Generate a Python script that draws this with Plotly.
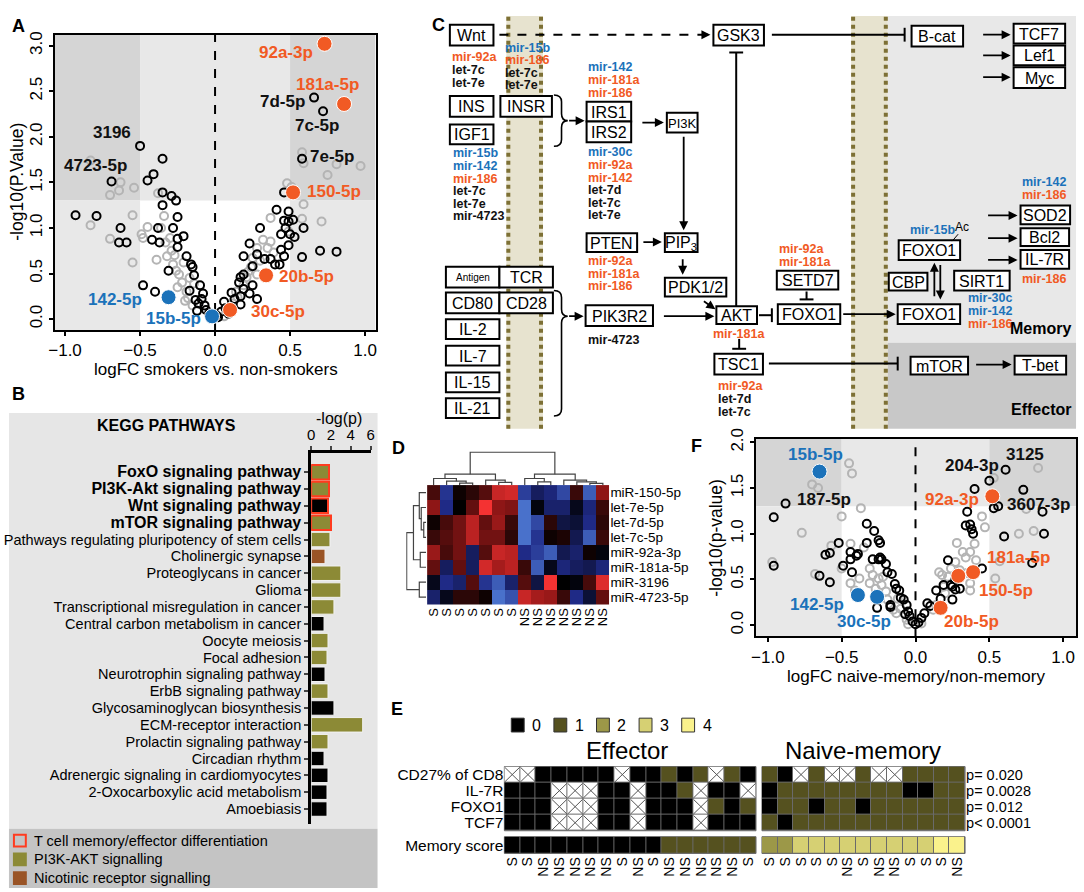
import plotly.graph_objects as go

W, H = 1084, 892
FONT = "Arial, Liberation Sans, sans-serif"
RED = "#f15a24"
BLUE = "#1b72ba"
OLIVE = "#8c8a36"
BROWN = "#9a5426"
GRAYPT = "#b4b4b4"
DARKBG = "#d5d5d5"
LIGHTBG = "#e8e8e8"


def px(x):
    return x / W


def py(y):
    return 1 - y / H


# ------------------------- Panel A data -------------------------
A_black = [(-0.50, 1.90), (-0.35, 1.76), (-0.69, 1.51), (-0.41, 1.59), (-0.45, 1.52), (-0.35, 1.39),
           (-0.35, 1.25), (-0.29, 1.35), (-0.26, 1.30), (-0.25, 1.12), (-0.93, 1.14), (-0.79, 1.13),
           (-0.63, 1.00), (-0.64, 0.84), (-0.59, 0.84), (-0.38, 1.00), (-0.28, 1.00), (-0.42, 0.87),
           (-0.37, 0.84), (-0.25, 0.88), (-0.21, 0.91), (-0.25, 0.79), (-0.19, 0.69), (-0.16, 0.60),
           (-0.15, 0.57), (-0.31, 0.53), (-0.48, 0.37), (-0.40, 0.30), (-0.14, 0.48), (-0.10, 0.37),
           (-0.08, 0.28), (-0.13, 0.21), (-0.11, 0.17), (-0.07, 0.15), (-0.12, 0.09), (-0.06, 0.10),
           (-0.04, 0.06), (0.01, 0.04), (0.04, 0.08), (0.06, 0.19), (0.07, 0.12), (0.11, 0.29),
           (0.17, 0.25), (0.17, 0.16), (0.19, 0.33), (0.23, 0.28), (0.28, 0.22), (0.25, 0.37),
           (0.17, 0.46), (0.19, 0.49), (0.16, 0.40), (0.19, 0.69), (0.25, 0.58), (0.23, 0.83),
           (0.28, 0.71), (0.30, 1.00), (0.33, 0.66), (0.37, 0.66), (0.40, 0.60), (0.43, 0.60),
           (0.41, 1.20), (0.46, 1.08), (0.49, 1.18), (0.49, 1.07), (0.52, 1.09), (0.47, 1.00),
           (0.44, 0.93), (0.50, 0.93), (0.53, 0.90), (0.59, 1.00), (0.49, 0.81), (0.44, 0.76),
           (0.46, 0.69), (0.58, 0.68), (0.70, 0.75), (0.81, 0.74), (0.46, 1.39), (0.58, 1.76),
           (0.66, 2.43), (0.72, 2.28), (-0.09, 0.22), (-0.03, 0.03), (0.02, 0.02), (0.09, 0.06),
           (0.13, 0.22), (-0.17, 0.31)]
A_gray = [(-0.83, 1.74), (-0.70, 1.36), (-0.64, 1.41), (-0.63, 1.50), (-0.54, 1.44), (-0.83, 1.03),
          (-0.70, 0.88), (-0.55, 1.14), (-0.55, 0.62), (-0.45, 1.01), (-0.49, 0.93), (-0.48, 0.89),
          (-0.38, 1.38), (-0.34, 1.13), (-0.39, 0.65), (-0.33, 0.84), (-0.32, 0.69), (-0.29, 0.75),
          (-0.28, 0.60), (-0.26, 0.53), (-0.24, 0.49), (-0.22, 0.40), (-0.19, 0.30), (-0.18, 0.23),
          (-0.25, 0.35), (-0.15, 0.15), (-0.14, 0.39), (-0.36, 1.00), (-0.30, 0.89), (0.01, 0.03),
          (0.06, 0.03), (0.10, 0.12), (0.12, 0.17), (0.15, 0.24), (0.19, 0.37), (0.21, 0.46),
          (0.24, 0.57), (0.25, 0.67), (0.28, 0.78), (0.32, 0.87), (0.35, 0.78), (0.37, 0.85),
          (0.39, 0.73), (0.37, 1.11), (0.49, 0.96), (0.48, 1.49), (0.51, 1.45), (0.59, 1.26),
          (0.58, 1.83), (0.59, 1.71), (0.75, 1.58), (0.81, 1.70), (0.97, 1.68), (0.71, 1.07),
          (0.58, 1.10), (0.30, 0.64), (0.28, 0.49), (-0.21, 0.62), (-0.17, 0.45), (-0.27, 0.70),
          (-0.20, 0.20), (0.08, 0.08), (0.14, 0.30), (0.22, 0.52)]
A_hl_fc = [0.73, 0.86, 0.52, 0.34, 0.10, -0.31, -0.02]
A_hl_p = [3.02, 2.36, 1.39, 0.48, 0.10, 0.24, 0.03]
A_hl_dir = ["up", "up", "up", "up", "up", "down", "down"]
A_lab_names = ["92a-3p", "181a-5p", "7d-5p", "7c-5p", "7e-5p", "150-5p", "20b-5p", "30c-5p",
               "142-5p", "15b-5p", "3196", "4723-5p"]
A_lab_fc = [0.47, 0.75, 0.45, 0.68, 0.78, 0.79, 0.61, 0.42, -0.67, -0.28, -0.69, -0.80]
A_lab_p = [2.92, 2.57, 2.39, 2.12, 1.78, 1.40, 0.47, 0.08, 0.21, 0.01, 2.05, 1.68]
A_lab_kind = ["up", "up", "ns", "ns", "ns", "up", "up", "up", "down", "down", "ns", "ns"]

# ------------------------- Panel F data -------------------------
F_black = [(-0.96, 1.18), (-0.96, 0.65), (-0.88, 1.33), (-0.65, 0.54), (-0.58, 0.47), (-0.61, 0.77),
           (-0.58, 0.79), (-0.52, 0.90), (-0.44, 0.80), (-0.49, 0.65), (-0.44, 0.72), (-0.43, 0.58),
           (-0.40, 0.76), (-0.39, 0.78), (-0.33, 1.11), (-0.28, 1.03), (-0.33, 0.90), (-0.25, 0.93),
           (-0.24, 0.90), (-0.29, 0.72), (-0.25, 0.72), (-0.24, 0.74), (-0.23, 0.72), (-0.20, 0.67),
           (-0.19, 0.58), (-0.16, 0.56), (-0.14, 0.45), (-0.13, 0.40), (-0.11, 0.38), (-0.08, 0.28),
           (-0.17, 0.22), (-0.17, 0.20), (-0.26, 0.19), (-0.06, 0.22), (-0.05, 0.15), (-0.04, 0.10),
           (-0.02, 0.04), (0.02, 0.03), (0.04, 0.08), (0.06, 0.13), (0.08, 0.24), (0.10, 0.21),
           (0.14, 0.38), (0.17, 0.29), (0.22, 0.71), (0.24, 0.44), (0.25, 0.42), (0.27, 0.39),
           (0.30, 0.40), (0.25, 0.28), (0.35, 1.24), (0.34, 1.09), (0.37, 1.10), (0.38, 1.05),
           (0.39, 1.00), (0.40, 1.49), (0.50, 1.58), (0.53, 1.28), (0.56, 1.30), (0.61, 1.70),
           (0.60, 0.97), (0.73, 1.48), (0.86, 1.24), (0.87, 1.00), (0.79, 0.68), (0.45, 0.62),
           (0.27, 0.50), (0.19, 0.44), (-0.10, 0.30), (-0.07, 0.12), (0.00, 0.01)]
F_gray = [(-0.66, 1.50), (-0.70, 1.54), (-0.43, 1.66), (-0.45, 1.77), (-0.37, 1.28), (-0.50, 1.19),
          (-0.77, 1.01), (-0.97, 0.69), (-0.68, 0.56), (-0.57, 0.87), (-0.44, 0.89), (-0.50, 0.62),
          (-0.44, 0.46), (-0.41, 0.38), (-0.38, 0.51), (-0.35, 0.85), (-0.31, 0.62), (-0.29, 0.55),
          (-0.31, 0.46), (-0.25, 0.51), (-0.23, 0.44), (-0.22, 0.53), (-0.20, 0.37), (-0.19, 0.28),
          (-0.15, 0.17), (-0.13, 0.13), (-0.12, 0.29), (-0.10, 0.18), (-0.06, 0.06), (-0.05, 0.01),
          (0.04, 0.02), (0.12, 0.17), (0.14, 0.22), (0.16, 0.58), (0.18, 0.55), (0.19, 0.42),
          (0.22, 0.53), (0.24, 0.62), (0.27, 0.69), (0.28, 0.90), (0.32, 0.80), (0.34, 0.74),
          (0.37, 0.80), (0.40, 0.89), (0.41, 0.71), (0.35, 0.57), (0.37, 0.46), (0.37, 0.38),
          (0.45, 1.19), (0.47, 1.07), (0.54, 0.51), (0.57, 0.70), (0.70, 1.00), (0.80, 1.03),
          (0.75, 1.27), (0.83, 1.72), (0.53, 1.61), (0.20, 0.35), (0.30, 0.60), (-0.27, 0.40)]
F_hl_fc = [-0.65, -0.39, -0.26, 0.52, 0.39, 0.29, 0.17]
F_hl_p = [1.68, 0.33, 0.31, 1.41, 0.58, 0.54, 0.19]
F_hl_dir = ["down", "down", "down", "up", "up", "up", "up"]
F_lab_names = ["15b-5p", "187-5p", "204-3p", "3125", "3607-3p", "92a-3p", "181a-5p", "150-5p",
               "20b-5p", "142-5p", "30c-5p"]
F_lab_fc = [-0.68, -0.62, 0.38, 0.74, 0.83, 0.25, 0.70, 0.61, 0.38, -0.67, -0.35]
F_lab_p = [1.87, 1.37, 1.75, 1.87, 1.32, 1.37, 0.74, 0.38, 0.04, 0.23, 0.04]
F_lab_kind = ["down", "ns", "ns", "ns", "ns", "up", "up", "up", "up", "down", "down"]

# ------------------------- Panel B data -------------------------
B_pathways = ["FoxO signaling pathway", "PI3K-Akt signaling pathway", "Wnt signaling pathway",
              "mTOR signaling pathway", "Pathways regulating pluripotency of stem cells",
              "Cholinergic synapse", "Proteoglycans in cancer", "Glioma",
              "Transcriptional misregulation in cancer", "Central carbon metabolism in cancer",
              "Oocyte meiosis", "Focal adhesion", "Neurotrophin signaling pathway",
              "ErbB signaling pathway", "Glycosaminoglycan biosynthesis", "ECM-receptor interaction",
              "Prolactin signaling pathway", "Circadian rhythm", "Adrenergic signaling in cardiomyocytes",
              "2-Oxocarboxylic acid metabolism", "Amoebiasis"]
B_logp = [1.8, 1.8, 1.7, 2.0, 1.9, 1.4, 3.0, 3.0, 2.3, 1.3, 1.7, 1.6, 1.4, 1.7, 2.3, 5.2, 1.7, 1.3,
          1.7, 1.6, 1.6]
B_group = ["pi3k", "pi3k", "other", "pi3k", "pi3k", "nicotinic", "pi3k", "pi3k", "pi3k", "other",
           "pi3k", "pi3k", "other", "pi3k", "other", "pi3k", "pi3k", "other", "other", "other", "other"]
B_tcell = [True, True, True, True] + [False] * 17
B_legend = ["T cell memory/effector differentiation", "PI3K-AKT signalling", "Nicotinic receptor signalling"]

# ------------------------- Panel D data -------------------------
D_rows = ["miR-150-5p", "let-7e-5p", "let-7d-5p", "let-7c-5p", "miR-92a-3p", "miR-181a-5p",
          "miR-3196", "miR-4723-5p"]
D_cols = ["S", "S", "S", "S", "S", "S", "S", "NS", "NS", "NS", "NS", "NS", "NS", "NS"]
D_z = [
    [0.25, -0.55, 0.05, 0.15, 0.30, 0.75, 0.80, -0.60, -0.35, -0.45, -0.65, 0.20, -0.75, 0.50],
    [0.50, -0.50, 0.00, 0.35, 0.95, 0.50, 0.45, -0.85, -0.05, -0.40, -0.40, -0.10, -0.45, 0.20],
    [0.05, 0.25, 0.40, 0.70, 0.35, 0.55, 0.20, -0.85, -0.65, 0.15, -0.25, -0.20, -0.50, 0.15],
    [0.20, 0.30, 0.40, 0.70, 0.40, 0.40, 0.15, -0.85, -0.55, 0.05, 0.10, -0.30, -0.75, 0.20],
    [0.55, 0.25, 0.40, -0.35, 0.30, 0.75, 0.70, -0.50, -0.60, -0.75, -0.30, -0.40, 0.05, -0.05],
    [0.35, -0.35, 0.35, -0.35, 0.80, 0.60, 0.70, 0.20, -0.75, -0.10, -0.45, -0.35, -0.30, -0.45],
    [-0.10, -0.50, -0.40, 0.30, -0.55, -0.75, -0.40, 0.30, -0.25, 0.95, 0.00, -0.05, 0.25, 0.85],
    [-0.40, -0.10, 0.15, 0.15, 0.05, -0.85, -0.70, 0.75, 0.60, 0.55, 0.20, -0.50, -0.20, 0.35],
]
D_col_merges = [(2, 3, 0.06), (1, 14, 0.12), (0, 15, 0.2), (5, 6, 0.08), (4, 17, 0.15), (16, 18, 0.33),
                (8, 9, 0.1), (7, 20, 0.2), (12, 13, 0.05), (11, 22, 0.1), (10, 23, 0.15), (21, 24, 0.33),
                (19, 25, 1.0)]
D_row_merges = [(2, 3, 0.12), (1, 8, 0.25), (0, 9, 0.35), (4, 5, 0.3), (10, 11, 0.65), (6, 7, 0.35),
                (12, 13, 1.0)]

# ------------------------- Panel E data -------------------------
E_markers = ["CD27% of CD8", "IL-7R", "FOXO1", "TCF7"]
E_pvals = ["p= 0.020", "p= 0.0028", "p= 0.012", "p< 0.0001"]
E_eff_cols = ["S", "S", "NS", "NS", "NS", "NS", "NS", "S", "NS", "S", "NS", "NS", "NS", "NS", "NS", "S"]
E_eff = [
    [None, None, 0, 0, 0, 0, 0, None, 0, 0, 1, 0, 1, None, 1, 0],
    [0, 0, 0, None, None, None, 0, 0, None, 0, 0, 1, None, 0, 0, None],
    [0, 0, 0, None, None, None, 0, 0, None, 0, 0, 0, None, 1, 0, 1],
    [0, 0, 0, None, None, None, 0, 0, None, 0, 0, 0, None, 0, 0, 0],
]
E_eff_score = [0, 0, 0, 0, 0, 0, 0, 0, 0, 0, 1, 1, 1, 1, 1, 1]
E_nm_cols = ["S", "S", "S", "S", "S", "NS", "S", "NS", "NS", "S", "S", "S", "NS"]
E_nm = [
    [1, 0, None, 1, None, None, 1, None, None, 1, 1, 1, 1],
    [0, 1, 1, 1, 1, 1, 1, 1, 1, 0, 0, 1, 1],
    [0, 1, 1, 0, 1, 1, 0, 1, 1, 1, 1, 1, 1],
    [1, 0, 1, 1, 1, 1, 1, 1, 1, 1, 1, 1, 1],
]
E_nm_score = [2, 2, 3, 3, 3, 3, 3, 3, 3, 3, 3, 4, 4]
E_levels = [0, 1, 2, 3, 4]
E_level_colors = ["#000000", "#55511f", "#9c9848", "#d6d073", "#faf28c"]

# ------------------------- Panel C content -------------------------
C_boxes = [
    ("Wnt", 448, 14, 492, 35, 16), ("GSK3", 714, 14, 765, 35, 16), ("B-cat", 914, 15, 966, 36, 16),
    ("TCF7", 1017, 13, 1069, 33, 16), ("Lef1", 1017, 35, 1069, 55, 16), ("Myc", 1017, 57, 1069, 78, 16),
    ("INS", 448, 86, 492, 107, 16), ("INSR", 499, 86, 551, 107, 16), ("IGF1", 448, 115, 492, 135, 16),
    ("IRS1", 586, 92, 631, 112, 16), ("IRS2", 586, 112, 631, 133, 16), ("PI3K", 667, 103, 698, 123, 13),
    ("PTEN", 586, 225, 637, 244, 16), ("PIP<sub>3</sub>", 665, 225, 698, 244, 16),
    ("PDK1/2", 665, 270, 727, 289, 16), ("AKT", 717, 299, 758, 317, 16), ("TSC1", 715, 347, 764, 368, 16),
    ("PIK3R2", 585, 298, 653, 319, 16), ("Antigen", 444, 259, 498, 280, 10), ("TCR", 498, 259, 552, 280, 16),
    ("CD80", 444, 285, 498, 306, 16), ("CD28", 498, 285, 552, 306, 16), ("IL-2", 444, 312, 498, 332, 16),
    ("IL-7", 444, 339, 498, 359, 16), ("IL-15", 444, 366, 498, 386, 16), ("IL-21", 444, 392, 498, 412, 16),
    ("SETD7", 778, 263, 840, 282, 16), ("FOXO1", 779, 297, 842, 317, 16), ("FOXO1", 900, 297, 963, 317, 16),
    ("FOXO1", 901, 232, 963, 252, 16), ("CBP", 891, 265, 930, 283, 16), ("SIRT1", 957, 263, 1013, 283, 16),
    ("SOD2", 1024, 197, 1074, 216, 16), ("Bcl2", 1024, 220, 1073, 238, 16), ("IL-7R", 1024, 242, 1073, 261, 16),
    ("mTOR", 913, 350, 971, 368, 16), ("T-bet", 1018, 349, 1070, 368, 16),
]
R, B, K = RED, BLUE, "#111111"
C_mirs = [
    (448, 47, [("mir-92a", R), ("let-7c", K), ("let-7e", K)]),
    (502, 37, [("mir-15b", B), ("mir-186", R), ("let-7c", K), ("let-7e", K)]),
    (449, 144, [("mir-15b", B), ("mir-142", B), ("mir-186", R), ("let-7c", K), ("let-7e", K), ("mir-4723", K)]),
    (585, 57, [("mir-142", B), ("mir-181a", R), ("mir-186", R)]),
    (585, 143, [("mir-30c", B), ("mir-92a", R), ("mir-142", R), ("let-7d", K), ("let-7c", K), ("let-7e", K)]),
    (585, 253, [("mir-92a", R), ("mir-181a", R), ("mir-186", R)]),
    (585, 333, [("mir-4723", K)]),
    (712, 327, [("mir-181a", R)]),
    (717, 380, [("mir-92a", R), ("let-7d", K), ("let-7c", K)]),
    (778, 241, [("mir-92a", R), ("mir-181a", R)]),
    (910, 222, [("mir-15b", B)]),
    (969, 291, [("mir-30c", B), ("mir-142", B), ("mir-186", R)]),
    (1023, 173, [("mir-142", B), ("mir-186", R)]),
    (1023, 271, [("mir-186", R)]),
]
C_arrows = [((567, 111), (584, 111)), ((641, 113), (664, 113)), ((684, 127), (684, 222)),
            ((642, 234), (662, 234)), ((683, 250), (683, 267)), ((703, 293), (716, 302)),
            ((567, 309), (583, 309)), ((663, 309), (715, 309)), ((844, 307), (898, 307)),
            ((985, 24), (1014, 24)), ((985, 45), (1014, 45)), ((985, 67), (1014, 67)),
            ((990, 207), (1021, 207)), ((990, 230), (1021, 230)), ((990, 252), (1021, 252)),
            ((978, 358), (1015, 358)), ((937, 290), (937, 255)), ((943, 256), (943, 292))]
C_inhib = [((737, 299), (737, 42)), ((773, 24), (907, 24)), ((740, 332), (740, 342)),
           ((808, 284), (808, 292)), ((760, 308), (773, 308)), ((770, 357), (900, 357))]

# ======================================================================
fig = go.Figure()
shapes = []
annots = []
layout = dict(width=W, height=H, margin=dict(l=0, r=0, t=0, b=0), paper_bgcolor="white",
              plot_bgcolor="rgba(0,0,0,0)", showlegend=False, font=dict(family=FONT, color="black"))


def ref(n):
    return "" if n == 1 else str(n)


def ann(x, y, text, size=14, color="black", xanchor="center", yanchor="middle", angle=0, bold=False):
    t = "<b>%s</b>" % text if bold else text
    annots.append(dict(x=px(x), y=py(y), xref="paper", yref="paper", text=t, showarrow=False,
                       font=dict(size=size, color=color, family=FONT), xanchor=xanchor, yanchor=yanchor,
                       textangle=angle))


def hidden():
    return dict(visible=False, showgrid=False, zeroline=False)


def volcano(n, dom, xr, yr, black, gray, hl_fc, hl_p, hl_dir, lab_n, lab_fc, lab_p, lab_k, yticks):
    l, t, r, b = dom
    xa, ya = "x" + ref(n), "y" + ref(n)
    x0, x1 = xr
    y0, y1 = yr
    for (a, c, d, e, col) in [(x0, -0.5, 1.3, y1, DARKBG), (-0.5, 0.5, 1.3, y1, LIGHTBG),
                              (0.5, x1, 1.3, y1, DARKBG), (x0, -0.5, y0, 1.3, LIGHTBG),
                              (0.5, x1, y0, 1.3, LIGHTBG)]:
        shapes.append(dict(type="rect", xref=xa, yref=ya, x0=a, x1=c, y0=d, y1=e, fillcolor=col,
                           line=dict(width=0), layer="below"))
    shapes.append(dict(type="line", xref=xa, yref=ya, x0=0, x1=0, y0=y0, y1=y1,
                       line=dict(color="black", width=2, dash="dash"), layer="below"))
    fig.add_trace(go.Scatter(x=[p[0] for p in gray], y=[p[1] for p in gray], mode="markers",
                             xaxis=xa, yaxis=ya,
                             marker=dict(symbol="circle-open", size=8, color=GRAYPT, line=dict(width=2))))
    fig.add_trace(go.Scatter(x=[p[0] for p in black], y=[p[1] for p in black], mode="markers",
                             xaxis=xa, yaxis=ya,
                             marker=dict(symbol="circle-open", size=8, color="black", line=dict(width=2))))
    cols = [RED if d == "up" else BLUE for d in hl_dir]
    fig.add_trace(go.Scatter(x=hl_fc, y=hl_p, mode="markers", xaxis=xa, yaxis=ya,
                             marker=dict(size=15, color=cols, line=dict(color="white", width=1))))
    for nm, fx, fy, k in zip(lab_n, lab_fc, lab_p, lab_k):
        col = RED if k == "up" else (BLUE if k == "down" else "#111111")
        annots.append(dict(x=fx, y=fy, xref=xa, yref=ya, text="<b>%s</b>" % nm, showarrow=False,
                           font=dict(size=17, color=col, family=FONT)))
    common = dict(showline=True, mirror=True, linewidth=2, linecolor="black", ticks="outside",
                  ticklen=4, tickwidth=1.5, tickcolor="black", showgrid=False, zeroline=False,
                  tickfont=dict(size=17, family=FONT))
    layout["xaxis" + ref(n)] = dict(domain=[px(l), px(r)], range=xr, anchor=ya,
                                    tickvals=[-1, -0.5, 0, 0.5, 1], tickformat=".1f", **common)
    layout["yaxis" + ref(n)] = dict(domain=[py(b), py(t)], range=yr, anchor=xa, tickvals=yticks,
                                    tickformat=".1f", tickangle=-90, **common)


# ---------------- Panel A ----------------
volcano(1, (49, 24, 373, 323), [-1.07, 1.07], [-0.12, 3.12], A_black, A_gray, A_hl_fc, A_hl_p, A_hl_dir,
        A_lab_names, A_lab_fc, A_lab_p, A_lab_kind, [0, 0.5, 1, 1.5, 2, 2.5, 3])
ann(212, 363, "logFC smokers vs. non-smokers", size=17)
ann(11, 173, "-log10(P.Value)", size=17.5, angle=-90)

# ---------------- Panel F ----------------
volcano(6, (757, 433, 1080, 633), [-1.08, 1.087], [-0.12, 2.04], F_black, F_gray, F_hl_fc, F_hl_p, F_hl_dir,
        F_lab_names, F_lab_fc, F_lab_p, F_lab_kind, [0, 0.5, 1, 1.5, 2])
ann(918, 674, "logFC naive-memory/non-memory", size=17)
ann(717, 533, "-log10(p-value)", size=17.5, angle=-90)

# ---------------- Panel B ----------------
shapes.append(dict(type="rect", xref="paper", yref="paper", x0=px(3), x1=px(375), y0=py(828), y1=py(407),
                   fillcolor="#e6e6e6", line=dict(width=0), layer="below"))
shapes.append(dict(type="rect", xref="paper", yref="paper", x0=px(3), x1=px(375), y0=py(888), y1=py(828),
                   fillcolor="#c4c4c4", line=dict(width=0), layer="below"))
gcol = {"pi3k": OLIVE, "nicotinic": BROWN, "other": "#000000"}
fig.add_trace(go.Bar(x=B_logp, y=list(range(len(B_logp))), orientation="h", xaxis="x2", yaxis="y2",
                     width=0.86,
                     marker=dict(color=[gcol[g] for g in B_group],
                                 line=dict(color=["#ff3b1f" if t else "#f2f2f2" for t in B_tcell],
                                           width=[2 if t else 1 for t in B_tcell]))))
B_ticktext = ['<span style="font-size:16px"><b>%s</b></span>' % nme if t else nme
              for nme, t in zip(B_pathways, B_tcell)]
layout["xaxis2"] = dict(domain=[px(308), px(368)], range=[0, 6], anchor="y2", side="top",
                        tickvals=[0, 2, 4, 6], ticks="outside", ticklen=4, tickwidth=2, showline=True,
                        linewidth=3, linecolor="black", showgrid=False, zeroline=False,
                        tickfont=dict(size=15, family=FONT))
layout["yaxis2"] = dict(domain=[py(823), py(448)], range=[20.88, -1.11], anchor="x2",
                        tickvals=list(range(len(B_pathways))), ticktext=B_ticktext, ticks="outside",
                        ticklen=4, tickwidth=2, showline=True, linewidth=3, linecolor="black",
                        showgrid=False, zeroline=False, tickfont=dict(size=14.5, family=FONT))
ann(162, 420, "KEGG PATHWAYS", size=16, bold=True)
ann(336, 413, "-log(p)", size=16)
leg_fill = ["#c4c4c4", OLIVE, BROWN]
leg_line = ["#ff3b1f", OLIVE, BROWN]
for i, (lab, fc, lc) in enumerate(zip(B_legend, leg_fill, leg_line)):
    yc = 840 + i * 19
    shapes.append(dict(type="rect", xref="paper", yref="paper", x0=px(8), x1=px(20), y0=py(yc + 6),
                       y1=py(yc - 6), fillcolor=fc, line=dict(color=lc, width=2)))
    ann(26, yc, lab, size=14.5, xanchor="left")

# ---------------- Panel D ----------------
D_scale = [[0, "#5b8fe8"], [0.25, "#1f2a86"], [0.5, "#000000"], [0.75, "#8e1616"], [1, "#ff3535"]]
fig.add_trace(go.Heatmap(z=D_z, x=list(range(len(D_cols))), y=list(range(len(D_rows))), xaxis="x3",
                         yaxis="y3", colorscale=D_scale, zmin=-1, zmax=1, showscale=False))
layout["xaxis3"] = dict(domain=[px(425), px(609)], range=[-0.5, 13.5], anchor="y3",
                        tickvals=list(range(len(D_cols))), ticktext=D_cols, tickangle=-90, ticks="",
                        showgrid=False, zeroline=False, showline=False, tickfont=dict(size=13, family=FONT))
layout["yaxis3"] = dict(domain=[py(601), py(480)], range=[7.5, -0.5], anchor="x3", side="right",
                        tickvals=list(range(len(D_rows))), ticktext=D_rows, ticks="", showgrid=False,
                        zeroline=False, showline=False, tickfont=dict(size=13.5, family=FONT))


def dendro(n, merges):
    pos = list(range(n))
    hgt = [0.0] * n
    xs, ys = [], []
    for a, b, h in merges:
        xs += [pos[a], pos[a], pos[b], pos[b], None]
        ys += [hgt[a], h, h, hgt[b], None]
        pos.append((pos[a] + pos[b]) / 2)
        hgt.append(h)
    return xs, ys


cx, cy = dendro(len(D_cols), D_col_merges)
fig.add_trace(go.Scatter(x=cx, y=cy, mode="lines", xaxis="x4", yaxis="y4",
                         line=dict(color="#444", width=1.2), hoverinfo="skip"))
layout["xaxis4"] = dict(domain=[px(425), px(609)], range=[-0.5, 13.5], anchor="y4", **hidden())
layout["yaxis4"] = dict(domain=[py(480), py(446)], range=[0, 1.02], anchor="x4", **hidden())
rx, ry = dendro(len(D_rows), D_row_merges)
fig.add_trace(go.Scatter(x=ry, y=rx, mode="lines", xaxis="x5", yaxis="y5",
                         line=dict(color="#444", width=1.2), hoverinfo="skip"))
layout["xaxis5"] = dict(domain=[px(404), px(424)], range=[1.02, 0], anchor="y5", **hidden())
layout["yaxis5"] = dict(domain=[py(601), py(480)], range=[7.5, -0.5], anchor="x5", **hidden())

# ---------------- Panel E ----------------
E_scale = [[0.0, "#ffffff"], [0.1, "#ffffff"]]
for i, c in enumerate(E_level_colors):
    lo = round(0.1 + 0.2 * i, 4)
    hi = round(min(0.1 + 0.2 * (i + 1), 1.0), 4)
    E_scale += [[lo, c], [hi, c]]


def zcode(rows):
    return [[-1 if v is None else v for v in row] for row in rows]


def xmarks(rows):
    xs, ys = [], []
    for r, row in enumerate(rows):
        for c, v in enumerate(row):
            if v is None:
                xs += [c - 0.47, c + 0.47, None, c - 0.47, c + 0.47, None]
                ys += [r - 0.45, r + 0.45, None, r + 0.45, r - 0.45, None]
    return xs, ys


def egrid(n_main, n_score, rows, score, cols, xdom, ylab_side, yticktext):
    xm, ym, xs, ys = "x" + str(n_main), "y" + str(n_main), "x" + str(n_score), "y" + str(n_score)
    for xa, ya in [(xm, ym), (xs, ys)]:
        shapes.append(dict(type="rect", xref=xa + " domain", yref=ya + " domain", x0=0, x1=1, y0=0, y1=1,
                           fillcolor="#6a6a6a", line=dict(color="#6a6a6a", width=1), layer="below"))
    fig.add_trace(go.Heatmap(z=zcode(rows), xaxis=xm, yaxis=ym, colorscale=E_scale, zmin=-1, zmax=4,
                             showscale=False, xgap=1, ygap=1))
    mx, my = xmarks(rows)
    fig.add_trace(go.Scatter(x=mx, y=my, mode="lines", xaxis=xm, yaxis=ym,
                             line=dict(color="#555", width=1), hoverinfo="skip"))
    fig.add_trace(go.Heatmap(z=[score], xaxis=xs, yaxis=ys, colorscale=E_scale, zmin=-1, zmax=4,
                             showscale=False, xgap=1, ygap=1))
    n = len(cols)
    base = dict(showgrid=False, zeroline=False, showline=False, ticks="")
    layout["xaxis" + str(n_main)] = dict(domain=xdom, range=[-0.5, n - 0.5], anchor=ym,
                                         showticklabels=False, **base)
    layout["yaxis" + str(n_main)] = dict(domain=[py(830), py(765)], range=[3.5, -0.5], anchor=xm,
                                         side=ylab_side, tickvals=[0, 1, 2, 3], ticktext=yticktext,
                                         tickfont=dict(size=15.5 if ylab_side == "left" else 14.5, family=FONT),
                                         **base)
    layout["xaxis" + str(n_score)] = dict(domain=xdom, range=[-0.5, n - 0.5], anchor=ys,
                                          tickvals=list(range(n)), ticktext=cols, tickangle=-90,
                                          tickfont=dict(size=14, family=FONT), **base)
    ylab = dict(tickvals=[0], ticktext=["Memory score"]) if ylab_side == "left" else dict(showticklabels=False)
    layout["yaxis" + str(n_score)] = dict(domain=[py(853), py(836)], range=[0.5, -0.5], anchor=xs,
                                          tickfont=dict(size=15.5, family=FONT), **ylab, **base)


egrid(7, 8, E_eff, E_eff_score, E_eff_cols, [px(503), px(757)], "left", E_markers)
egrid(9, 10, E_nm, E_nm_score, E_nm_cols, [px(763), px(968)], "right", E_pvals)
ann(627, 749, "Effector", size=24)
ann(865, 749, "Naive-memory", size=24)
for i, (lv, c) in enumerate(zip(E_levels, E_level_colors)):
    x0 = 510 + 43 * i
    shapes.append(dict(type="rect", xref="paper", yref="paper", x0=px(x0), x1=px(x0 + 13), y0=py(730),
                       y1=py(716), fillcolor=c, line=dict(color="#333", width=1)))
    ann(x0 + 19, 723, str(lv), size=16, xanchor="left")

# ---------------- Panel C ----------------
for xm0 in (505, 853):
    shapes.append(dict(type="rect", xref="paper", yref="paper", x0=px(xm0), x1=px(xm0 + 37), y0=py(423),
                       y1=py(5), fillcolor="#e7e3cf", line=dict(width=0), layer="below"))
shapes.append(dict(type="rect", xref="paper", yref="paper", x0=px(890), x1=px(1080), y0=py(336), y1=py(5),
                   fillcolor="#e8e8e8", line=dict(width=0), layer="below"))
shapes.append(dict(type="rect", xref="paper", yref="paper", x0=px(890), x1=px(1080), y0=py(423), y1=py(336),
                   fillcolor="#c8c8c8", line=dict(width=0), layer="below"))
for xl in (507, 540, 855, 888):
    shapes.append(dict(type="line", xref="paper", yref="paper", x0=px(xl), x1=px(xl), y0=py(423), y1=py(5),
                       line=dict(color="#7d7035", width=4, dash="dot")))

for (lab, x0, y0, x1, y1, fs) in C_boxes:
    shapes.append(dict(type="rect", xref="paper", yref="paper", x0=px(x0), x1=px(x1), y0=py(y1), y1=py(y0),
                       fillcolor="white", line=dict(color="black", width=2)))
    ann((x0 + x1) / 2, (y0 + y1) / 2 + 0.5, lab, size=fs)

for (x, y0, items) in C_mirs:
    for j, (t, c) in enumerate(items):
        ann(x, y0 + 12.8 * j, t, size=12.5, color=c, xanchor="left", bold=True)

for (tx, ty), (hx, hy) in C_arrows:
    annots.append(dict(x=px(hx), y=py(hy), xref="paper", yref="paper", ax=tx - hx, ay=ty - hy,
                       axref="pixel", ayref="pixel", text="", showarrow=True, arrowhead=2, arrowsize=1,
                       arrowwidth=1.8, arrowcolor="black"))
shapes.append(dict(type="line", xref="paper", yref="paper", x0=px(498), x1=px(704), y0=py(24), y1=py(24),
                   line=dict(color="black", width=2, dash="dash")))
annots.append(dict(x=px(711), y=py(24), xref="paper", yref="paper", ax=-10, ay=0, text="", showarrow=True,
                   arrowhead=2, arrowsize=1, arrowwidth=1.8, arrowcolor="black"))
for (tx, ty), (hx, hy) in C_inhib:
    shapes.append(dict(type="line", xref="paper", yref="paper", x0=px(tx), x1=px(hx), y0=py(ty), y1=py(hy),
                       line=dict(color="black", width=2)))
    if tx == hx:
        shapes.append(dict(type="line", xref="paper", yref="paper", x0=px(hx - 7), x1=px(hx + 7), y0=py(hy),
                           y1=py(hy), line=dict(color="black", width=2)))
    else:
        shapes.append(dict(type="line", xref="paper", yref="paper", x0=px(hx), x1=px(hx), y0=py(hy - 7),
                           y1=py(hy + 7), line=dict(color="black", width=2)))


def brace(x, ytop, ybot, ytip, w):
    xm = x + w * 0.55
    pts = [("M", [(x, ytop)]), ("Q", [(xm, ytop), (xm, ytop + 7)]), ("L", [(xm, ytip - 7)]),
           ("Q", [(xm, ytip), (x + w, ytip)]), ("Q", [(xm, ytip), (xm, ytip + 7)]), ("L", [(xm, ybot - 7)]),
           ("Q", [(xm, ybot), (x, ybot)])]
    s = ""
    for cmd, pp in pts:
        s += cmd + " " + " ".join("%.5f,%.5f" % (px(a), py(b)) for a, b in pp) + " "
    shapes.append(dict(type="path", xref="paper", yref="paper", path=s.strip(),
                       line=dict(color="black", width=1.6)))


brace(553, 85, 137, 111, 14)
brace(553, 283, 410, 309, 14)
ann(1077, 321, "Memory", size=16, xanchor="right", bold=True)
ann(1077, 403, "Effector", size=16, xanchor="right", bold=True)
ann(965, 219, "Ac", size=12)
shapes.append(dict(type="line", xref="paper", yref="paper", x0=px(961), x1=px(955), y0=py(226), y1=py(233),
                   line=dict(color="black", width=1)))

# ---------------- panel letters ----------------
for L, x, y in [("A", 13, 15), ("B", 13, 388), ("C", 437, 14), ("D", 396, 442), ("E", 395, 707), ("F", 697, 440)]:
    ann(x, y, L, size=18, bold=True)

layout["shapes"] = shapes
layout["annotations"] = annots
fig.update_layout(**layout)
fig.write_html("out.html", config={"displayModeBar": False},
               post_script="document.body.style.margin='0px';")
